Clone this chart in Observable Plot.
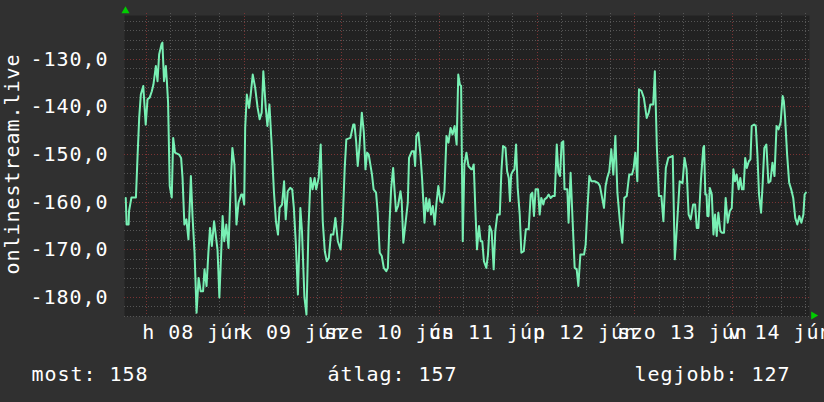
<!DOCTYPE html>
<html><head><meta charset="utf-8">
<script src="https://cdn.jsdelivr.net/npm/d3@7"></script>
<script src="https://cdn.jsdelivr.net/npm/@observablehq/plot@0.6"></script>
<style>html,body{margin:0;padding:0;background:#303030;overflow:hidden}</style>
</head><body><div id="chart"></div><script>
// ---- data (hours from 2015-06-08 00:00, plotted value) ----
const samples = [
[-5.1,-159.1],[-4.9,-164.7],[-4.4,-164.7],[-4.3,-161.9],[-3.7,-159],[-2.6,-159],[-2.2,-150.3],[-1.8,-142.3],[-1.4,-137.4],[-0.8,-135.6],[-0.2,-143.7],[0.25,-138.4],[0.8,-138],[1.3,-136.7],[1.7,-135.3],[2.3,-131.4],[2.7,-134.6],[3.1,-129],[3.7,-126.8],[3.9,-126.5],[4.3,-134.6],[4.75,-131.4],[5.0,-134.6],[5.3,-139.1],[5.7,-156.6],[6.2,-159],[6.55,-146.5],[7.0,-149.6],[8.0,-150],[8.5,-150.7],[8.85,-154.9],[9.3,-164.7],[9.8,-163.6],[10.3,-167.8],[10.9,-154.5],[11.3,-162.9],[11.8,-170.6],[12.3,-183.2],[12.8,-175.9],[13.3,-178.7],[13.9,-178.7],[14.25,-174.1],[14.75,-177.6],[15.2,-170.6],[15.6,-165.4],[16.05,-169.2],[16.6,-164],[17.45,-170],[17.9,-180],[18.2,-173.7],[18.7,-162.9],[19.1,-168.2],[19.6,-164.7],[20.15,-169.6],[20.7,-155.9],[21.1,-148.6],[21.6,-152.1],[22.1,-164.7],[22.6,-160.1],
[23.26,-158.4],[23.59,-158.4],[24.0,-160.5],[24.24,-144.4],[24.65,-137.4],[25.2,-140.2],[25.6,-137.4],[26.1,-133.2],[26.7,-136],[27.3,-140.2],[27.8,-142.6],[28.3,-141.2],[28.7,-132.5],[29.3,-140.2],[29.7,-144],[30.2,-139.5],[30.7,-147.2],[31.3,-157.7],[31.8,-164],[32.3,-166.8],[32.7,-161.2],[33.3,-160.5],[33.8,-155.6],[34.2,-163.6],[34.7,-157.7],[35.3,-157],[35.8,-157.3],[36.2,-161.2],[36.7,-168.9],[37.2,-179.4],[37.8,-161.2],[38.2,-166.1],[38.8,-180],[39.3,-183.6],[39.8,-165.4],[40.3,-154.9],[40.8,-157.3],[41.3,-154.9],[41.7,-157.3],[42.3,-154.9],[42.8,-147.9],[43.3,-164],[43.8,-170.3],[44.3,-172.4],[44.8,-171.7],[45.3,-166.8],[45.9,-166.8],[46.4,-163.3],[47.0,-168.2],[47.7,-169.9],[48.2,-164],[48.7,-152.8],[49.1,-146.8],[50.1,-146.5],[50.8,-143.7],
[51.1,-143.7],[51.5,-147.2],[51.9,-152.4],[52.3,-148.6],[52.9,-141.2],[53.4,-145.4],[53.8,-153.1],[54.2,-149.6],[54.6,-150],[55.0,-152.1],[55.4,-154.2],[55.8,-157.3],[56.4,-158],[56.8,-162.2],[57.3,-170.6],[57.8,-171.3],[58.3,-173.8],[58.9,-174.5],[59.3,-173.8],[59.7,-164.3],[60.1,-157.3],[60.6,-152.8],[60.9,-157],[61.3,-161.9],[61.8,-160.8],[62.4,-157.7],[62.7,-159.8],[63.1,-168.5],[63.6,-164.7],[64.2,-160.1],[64.5,-150.7],[65.2,-149.3],[65.7,-149.3],[66.0,-152.4],[66.3,-146.1],[66.8,-145.4],[67.3,-150],[67.7,-154.9],[68.3,-164.3],[68.7,-159.1],[69.1,-161.9],[69.5,-159.4],[69.9,-162.6],[70.35,-160.8],[70.8,-164.7],[71.25,-160.1],[71.7,-156.6],[72.2,-159.8],[72.7,-160.1],[73.2,-157.7],[73.7,-146.1],[74.2,-147.5],[74.7,-144.4],[75.2,-145.8],[75.7,-144],[76.2,-147.9],[76.6,-133.2],[77.0,-135.3],[77.3,-135.6],[77.7,-168.2],[78.1,-152.1],[78.6,-149.6],[79.1,-152.4],[79.8,-153.1],
[80.0,-153.1],[80.4,-152.1],[80.8,-161.5],[81.2,-169.9],[81.7,-165],[82.1,-168.2],[82.5,-168.2],[82.9,-172.4],[83.5,-173.8],[83.9,-171],[84.3,-165],[84.8,-166.1],[85.3,-174.1],[85.7,-166.1],[86.2,-162.6],[86.8,-162.6],[87.2,-153.5],[87.6,-148.2],[88.2,-148.6],[88.6,-153.5],[89.0,-154.9],[89.3,-159.8],[89.6,-154.2],[90.0,-153.5],[90.4,-153.1],[90.8,-147.9],[91.2,-157],[91.7,-162.6],[92.1,-170.6],[92.7,-170.3],[93.2,-165.7],[93.9,-165.7],[94.4,-158.4],[94.8,-158],[95.2,-162.9],[95.6,-157.3],[96.2,-157.3],[96.6,-162.6],[97.0,-159.1],[97.5,-160.5],[97.8,-159.4],[98.3,-159.1],[98.8,-158.4],[99.3,-159.1],[99.8,-158.7],[100.3,-158.7],[100.8,-147.9],[101.2,-153.8],[101.6,-154.5],[102.0,-147.5],[102.4,-147.2],[102.7,-157.3],[103.4,-157.3],[103.7,-164.3],[104.2,-153.8],[104.7,-164],[105.2,-173.8],[105.7,-174.1],[106.1,-177.6],[106.6,-171],[107.5,-171],[107.9,-168.9],[108.3,-161.9],
[108.8,-154.5],[109.3,-155.6],[110.1,-155.6],[111.0,-156],[111.4,-156.6],[111.8,-158.4],[112.4,-161.2],[112.8,-156.6],[113.2,-154.9],[113.7,-153.5],[114.2,-148.9],[114.7,-154.2],[115.2,-146.1],[115.7,-158],[116.3,-164],[116.9,-168.5],[117.4,-159.1],[118.0,-158.7],[118.6,-154.2],[119.3,-154.2],[119.7,-152.8],[120.1,-149.6],[120.6,-155.6],[121.0,-136.3],[121.6,-136.6],[122.2,-138.1],[122.9,-142.3],[123.4,-141.2],[123.8,-139.5],[124.5,-139.5],[124.9,-132.5],[125.4,-148.6],[125.9,-158.7],[126.5,-158.7],[127.0,-164],[127.6,-152.8],[128.2,-150.7],[129.3,-150.3],[129.8,-172],[130.2,-166.8],[131.0,-155.6],[131.7,-156],[132.2,-150.7],[132.7,-153.1],[133.2,-162.6],[133.7,-163.6],[134.3,-160.5],[134.8,-160.5],[135.2,-165.4],[135.6,-165.4],[136.2,-155.6],[136.8,-148.6],
[137.0,-148.2],[137.3,-158.4],[137.6,-158.4],[137.8,-162.9],[138.1,-162.9],[138.4,-157],[138.9,-158.4],[139.3,-166.8],[139.7,-162.6],[140.1,-167.1],[140.5,-162.2],[141.0,-166.1],[141.4,-166.4],[141.9,-166.4],[142.3,-159.1],[142.8,-164.3],[143.3,-161.9],[143.8,-161.2],[144.2,-153.1],[144.6,-155.6],[145.0,-154.2],[145.5,-157.3],[145.9,-154.9],[146.3,-157.3],[146.7,-157.3],[147.1,-150.7],[147.5,-152.8],[148.0,-151.4],[148.4,-151],[148.7,-144],[149.3,-143.7],[149.7,-144],[150.1,-150],[150.5,-158.4],[151.0,-162.2],[151.4,-155.9],[151.8,-148.6],[152.3,-147.9],[152.8,-155.9],[153.3,-155.6],[153.8,-151.7],[154.3,-154.5],[154.8,-144],[155.3,-144.7],[155.8,-143.3],[156.3,-137.7],[156.6,-138.8],[156.9,-142.3],[157.4,-150],[157.9,-155.9],[158.4,-157.3],[158.9,-159.1],[159.4,-163.3],[159.9,-164.7],[160.4,-162.9],[160.9,-164.3],[161.4,-162.6],[161.7,-158.4],[162.0,-158]
];
const labelDays = [8, 9, 10, 11, 12, 13, 14];
const dayLabels = ["h 08 jún", "k 09 jún", "sze 10 jún", "cs 11 jún", "p 12 jún", "szo 13 jún", "v 14 jún"];
const yTicks = [-130, -140, -150, -160, -170, -180];
const yTitle = "onlinestream.live";
const legendLabels = ["most: 158", "átlag: 157", "legjobb: 127"];
const xDomainHours = [-5.41, 162.9];
const yDomain = [-184, -120.8];

// ---- helpers ----
const base = Date.UTC(2015, 5, 8);
const t = h => new Date(base + h * 3600e3);
const minorX = d3.range(-6, 168, 6).filter(h => h % 24 !== 0 && h >= xDomainHours[0] && h <= xDomainHours[1]);
const majorX = d3.range(0, 168, 24);
const minorY = d3.range(-184, -120, 2).filter(v => v % 10 !== 0);
const fmt = v => v.toFixed(1).replace(".", ",");
const lineColor = "#78f0b4";
const minorC = "#565656", majorC = "#7a3434";
const FS = 20;

const chart = Plot.plot({
  width: 824, height: 402,
  marginLeft: 124, marginRight: 15, marginTop: 15, marginBottom: 86,
  style: {background: "#303030", color: "#fff", fontFamily: "'DejaVu Sans Mono', monospace", fontSize: "20px", letterSpacing: "0.96px", overflow: "hidden"},
  x: {type: "utc", domain: xDomainHours.map(t), axis: null},
  y: {domain: yDomain},
  marks: [
    Plot.frame({fill: "#222222", stroke: "none"}),
    Plot.ruleX(minorX.map(t), {stroke: minorC, strokeDasharray: "1,2", insetTop: -2, shapeRendering: "crispEdges"}),
    Plot.ruleX(majorX.map(t), {stroke: majorC, strokeDasharray: "1,2", insetTop: -2, shapeRendering: "crispEdges"}),
    Plot.ruleY(minorY, {stroke: minorC, strokeDasharray: "1,2", insetRight: -2, shapeRendering: "crispEdges"}),
    Plot.ruleY(yTicks, {stroke: majorC, strokeDasharray: "1,2", insetRight: -2, shapeRendering: "crispEdges"}),
    Plot.line(samples, {x: d => t(d[0]), y: d => d[1], stroke: lineColor, strokeWidth: 2, clip: true}),
    Plot.axisY({ticks: yTicks, tickFormat: fmt, tickSize: 0, tickPadding: 16, fontSize: FS, fill: "#fff", label: null}),
    Plot.text(dayLabels, {x: (d, i) => t((labelDays[i] - 8) * 24 + 12), frameAnchor: "bottom", dy: 22, dx: -1, text: d => d, textAnchor: "middle", lineAnchor: "bottom", fontSize: FS, fill: "#fff"}),
    Plot.text([yTitle], {frameAnchor: "left", dx: -106, dy: -2, rotate: -90, text: d => d, textAnchor: "middle", lineAnchor: "bottom", fontSize: FS, fill: "#fff"}),
    Plot.text([legendLabels[0]], {frameAnchor: "bottom-left", dx: -93, dy: 64, text: d => d, textAnchor: "start", lineAnchor: "bottom", fontSize: FS, fill: "#fff"}),
    Plot.text([legendLabels[1]], {frameAnchor: "bottom-left", dx: 203, dy: 64, text: d => d, textAnchor: "start", lineAnchor: "bottom", fontSize: FS, fill: "#fff"}),
    Plot.text([legendLabels[2]], {frameAnchor: "bottom-left", dx: 510, dy: 64, text: d => d, textAnchor: "start", lineAnchor: "bottom", fontSize: FS, fill: "#fff"}),
    Plot.dot([0], {frameAnchor: "top-left", dx: 1, dy: -4.5, symbol: "triangle", r: 3, fill: "#00cc00", stroke: "none"}),
    Plot.dot([0], {frameAnchor: "bottom-right", dx: 4, dy: -1, symbol: "triangle", r: 3, rotate: 90, fill: "#00cc00", stroke: "none"})
  ]
});
document.getElementById("chart").append(chart);
</script></body></html>
